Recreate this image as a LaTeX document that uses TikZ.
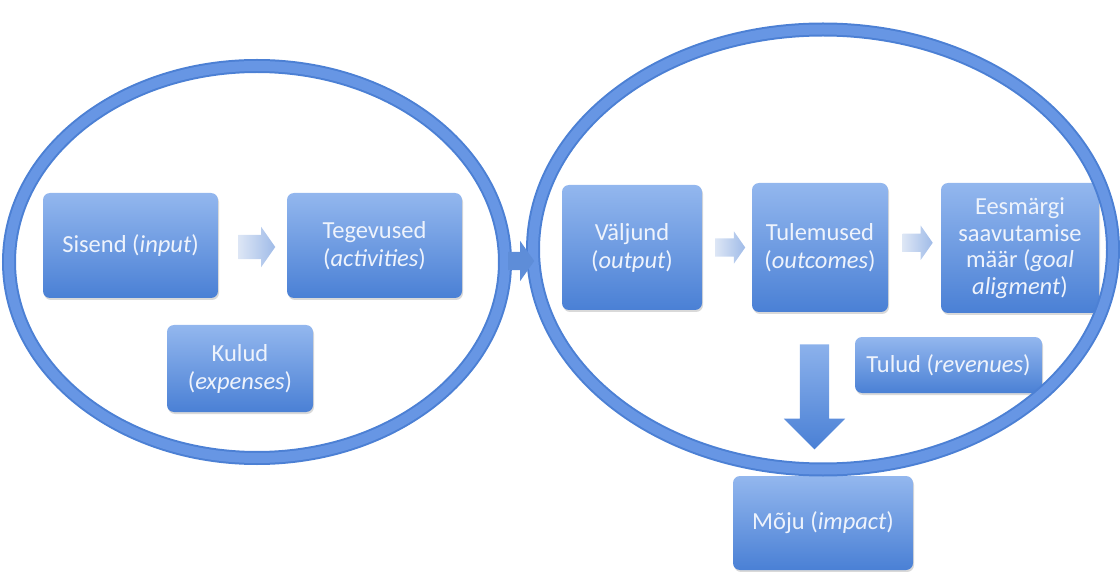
\documentclass[tikz,border=0pt]{standalone}
\usepackage{fontspec}
\setmainfont{Carlito}
\usetikzlibrary{shapes.geometric,shapes.arrows,shadows,calc}

\definecolor{boxtop}{HTML}{93B7EE}
\definecolor{boxbot}{HTML}{4A80D5}
\definecolor{boxtext}{HTML}{EEF3FC}
\definecolor{ringdark}{HTML}{4C80D4}
\definecolor{ringlight}{HTML}{6796E4}
\definecolor{hintleft}{HTML}{DDE6F5}
\definecolor{hintright}{HTML}{9FBBE8}

\tikzset{
  card/.style={rounded corners=7pt, top color=boxtop, bottom color=boxbot,
    text=boxtext, align=center, inner sep=2pt,
    font=\fontsize{24.5}{28}\selectfont,
    drop shadow={shadow xshift=1pt, shadow yshift=-2pt, opacity=0.25, fill=black!60}},
  ring/.style={ellipse, draw=ringdark, line width=14pt, inner sep=0pt},
  ringinner/.style={ellipse, draw=ringlight, line width=10pt, inner sep=0pt},
  hint/.style={single arrow, left color=hintleft, right color=hintright,
    single arrow head indent=0pt, single arrow tip angle=110},
  bigarrow/.style={single arrow, fill=ringdark!90!white, single arrow head indent=0pt},
}

\begin{document}
\begin{tikzpicture}[x=1pt,y=-1pt]
\useasboundingbox (0,0) rectangle (1120,572);

% process cards
\node[card, minimum width=175pt, minimum height=105pt] (sis) at (130.5,245.5) {Sisend (\textit{input})};
\node[card, minimum width=175pt, minimum height=105pt] (teg) at (374.5,245.5) {Tegevused\\(\textit{activities})};
\node[card, minimum width=146pt, minimum height=87pt] (kul) at (240,368.5) {Kulud\\(\textit{expenses})};
\node[card, minimum width=140pt, minimum height=125pt] (val) at (632,247.5) {Väljund\\(\textit{output})};
\node[card, minimum width=136pt, minimum height=129pt] (tul) at (820,247.5) {Tulemused\\(\textit{outcomes})};
\node[card, minimum width=158pt, minimum height=130pt, font=\fontsize{24.5}{26.5}\selectfont] (ees) at (1020,248)
  {Eesmärgi\\saavutamise\\määr (\textit{goal}\\\textit{aligment})};
\node[card, minimum width=187pt, minimum height=56pt] (tulud) at (948.5,365) {Tulud (\textit{revenues})};
\node[card, minimum width=180pt, minimum height=94pt] (moju) at (823,523) {Mõju (\textit{impact})};

% the two enclosing rings
\node[ring, minimum width=496pt, minimum height=392pt] (left) at (257,262) {};
\node[ringinner, minimum width=496pt, minimum height=392pt] at (left.center) {};
\node[ring, minimum width=580pt, minimum height=440pt] (right) at (823,249.5) {};
\node[ringinner, minimum width=580pt, minimum height=440pt] at (right.center) {};

% step arrows between the cards
\node[hint, inner sep=12pt, minimum height=37pt, single arrow head extend=8pt]
  (h1) at ($(sis.east)!0.5!(teg.west)+(0,1.5)$) {};
\node[hint, inner sep=9pt, minimum height=30pt, single arrow head extend=7pt]
  (h2) at ($(val.east)!0.5!(tul.west)$) {};
\node[hint, inner sep=9pt, minimum height=30pt, single arrow head extend=8pt]
  (h3) at ($(tul.east)!0.5!(ees.west)+(0,-5)$) {};

% arrow from the first ring into the second
\node[bigarrow, inner sep=9pt, minimum height=26pt, single arrow head extend=11pt,
  single arrow tip angle=110] (link) at (518,261) {};

% arrow down towards the impact card
\node[single arrow, shape border rotate=270, inner sep=14.5pt,
  minimum height=105pt, single arrow head extend=16pt,
  top color=boxtop!90!boxbot, bottom color=boxbot,
  single arrow head indent=0pt] (down) at (814.5,389.5) {};
\end{tikzpicture}
\end{document}
